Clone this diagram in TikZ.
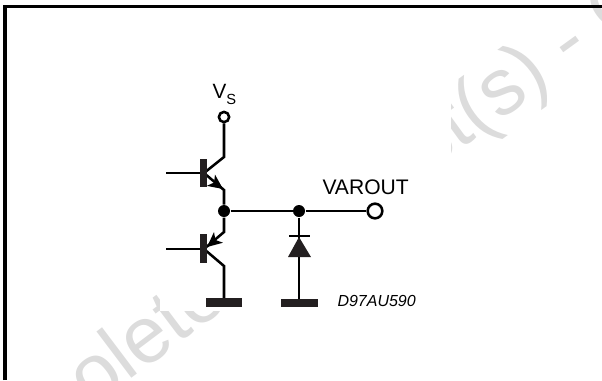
\documentclass[tikz,border=0pt]{standalone}
\usepackage{fontspec}
\setmainfont{Liberation Sans}
\definecolor{markgray}{RGB}{220,220,220}
\tikzset{every picture/.style={line width=0.75pt}}
\tikzset{
  wire/.style={line width=1.9},
  opendot/.style={circle,draw,line width=1.9,fill=white,inner sep=0pt},
  soliddot/.style={circle,fill=black,inner sep=0pt,minimum size=9},
  groundbar/.style={fill={rgb, 255:red, 35; green, 31; blue, 32 }},
  markfont/.style={text=markgray,inner sep=0pt,font=\fontsize{60}{60}\selectfont},
}
\begin{document}
\begin{tikzpicture}[x=0.75pt,y=0.75pt,yscale=-1,xscale=1]
        \useasboundingbox (0,0) rectangle (602,380);
        % Watermark
        \begin{scope}
        \clip (0,0) rectangle (602,380);
        \node (markone) at (92,409) [anchor=base west,rotate=37,markfont] {olete};
        \node (marktwo) at (427,174) [anchor=base west,rotate=36,markfont] {ct(s) - O};
        \end{scope}
        \fill [white] (160,60) rectangle (451,311);
        %Frame
        \draw [line width=2.6] (5,380) -- (5,6.5) -- (602,6.5);
        %Terminals and junctions
        \node (vs) at (224,117) [opendot,minimum size=7.7] {};
        \node (jone) at (224,211) [soliddot] {};
        \node (jtwo) at (299,211) [soliddot] {};
        \node (out) at (375,211) [opendot,minimum size=11] {};
        %Upper transistor
        \coordinate (baseone) at (166,173);
        \coordinate (hubone) at (204,173);
        \coordinate (colone) at (224,157);
        \coordinate (emone) at (224,190);
        \draw [wire] (vs) -- (colone) -- (hubone) -- (emone) -- (jone);
        \draw [wire] (baseone) -- (hubone);
        \fill [groundbar] (200,159) rectangle (207,187);
        \draw [shift={(223,189)}, rotate = 216, fill=black, draw opacity=0] (0,0) -- (15,-7) -- (11,0) -- (15,7) -- cycle;
        %Lower transistor
        \coordinate (basetwo) at (166,249);
        \coordinate (hubtwo) at (204,249);
        \coordinate (emtwo) at (224,232);
        \coordinate (coltwo) at (224,266);
        \coordinate (gndone) at (224,299);
        \draw [wire] (jone) -- (emtwo) -- (hubtwo) -- (coltwo) -- (gndone);
        \draw [wire] (basetwo) -- (hubtwo);
        \fill [groundbar] (200,234) rectangle (207,263);
        \draw [shift={(207,247)}, rotate = 320, fill=black, draw opacity=0] (0,0) -- (15,-7) -- (11,0) -- (15,7) -- cycle;
        \fill [groundbar] (206,298) rectangle (242,307);
        %Output
        \draw [wire] (jone) -- (jtwo) -- (out);
        %Diode
        \coordinate (gndtwo) at (299,300);
        \draw [wire] (jtwo) -- (gndtwo);
        \draw [line width=1.5] (289,236) -- (310,236);
        \fill [groundbar] (299,237) -- (288,257) -- (311,257) -- cycle;
        \fill [groundbar] (281,299) rectangle (318,307);
        % Text Node
        \draw (212,84) node (vslabel) [anchor=north west][inner sep=0pt] {\fontsize{15.5}{15.5}\selectfont V\raisebox{-4.5pt}{\fontsize{11}{11}\selectfont S}};
        % Text Node
        \draw (322,179) node (outlabel) [anchor=north west][inner sep=0pt] {\fontsize{15.8}{15.8}\selectfont VAROUT};
        % Text Node
        \draw (337,295) node (codelabel) [anchor=north west][inner sep=0pt] {\fontsize{12}{12}\selectfont\itshape D97AU590};
\end{tikzpicture}
\end{document}
